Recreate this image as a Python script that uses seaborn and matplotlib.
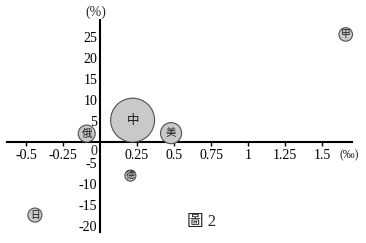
import matplotlib
matplotlib.use("Agg")
import matplotlib.pyplot as plt
import seaborn as sns
import pandas as pd

# ---- data ----
countries = ["甲", "中", "美", "俄", "德", "日"]
x_values = [1.66, 0.22, 0.48, -0.09, 0.205, -0.44]     # (‰)
y_values = [25.6, 5.2, 2.1, 2.0, -8.0, -17.4]          # (%)
bubble_sizes = [95, 1000, 230, 150, 63, 102]           # marker area (pt^2)
label_sizes = [7, 9, 7.5, 7.5, 6.5, 7]

x_ticks = [-0.5, -0.25, 0.25, 0.5, 0.75, 1, 1.25, 1.5]
x_ticklabels = ["-0.5", "-0.25", "0.25", "0.5", "0.75", "1", "1.25", "1.5"]
y_ticks = [-20, -15, -10, -5, 5, 10, 15, 20, 25]
y_ticklabels = ["-20", "-15", "-10", "-5", "5", "10", "15", "20", "25"]

df = pd.DataFrame({"country": countries, "x": x_values, "y": y_values, "size": bubble_sizes})

sns.set_theme(style="white")
plt.rcParams["font.family"] = ["Liberation Serif", "Noto Sans CJK TC"]

fig = plt.figure(figsize=(3.66, 2.43), dpi=100)
ax = fig.add_axes([0, 0, 1, 1])
ax.set_facecolor("white")

sns.scatterplot(data=df, x="x", y="y", size="size",
                sizes=(min(bubble_sizes), max(bubble_sizes)),
                size_norm=(min(bubble_sizes), max(bubble_sizes)),
                color="#c9c9c9", edgecolor="#505050", linewidth=0.8,
                legend=False, ax=ax, zorder=3)

for c, x, y, fs in zip(countries, x_values, y_values, label_sizes):
    ax.text(x, y, c, ha="center", va="center", fontsize=fs,
            family=["Noto Sans CJK TC"], color="#1a1a1a", zorder=4)

ax.set_xlim(-0.676, 1.797)
ax.set_ylim(-24.05, 33.8)

for s in ["top", "right"]:
    ax.spines[s].set_visible(False)
ax.spines["left"].set_position(("data", 0))
ax.spines["bottom"].set_position(("data", 0))
ax.spines["left"].set_bounds(-21.4, 29)
ax.spines["bottom"].set_bounds(-0.63, 1.70)
for s in ["left", "bottom"]:
    ax.spines[s].set_color("black")
    ax.spines[s].set_linewidth(1.5)

ax.set_xticks(x_ticks)
ax.set_xticklabels(x_ticklabels)
ax.set_yticks(y_ticks)
ax.set_yticklabels(y_ticklabels)
ax.tick_params(axis="x", direction="out", length=3, width=1, pad=2,
               labelsize=10, colors="black", bottom=True)
ax.tick_params(axis="y", length=0, pad=2, labelsize=10, colors="black", left=True)
ax.set_xlabel("")
ax.set_ylabel("")
ax.grid(False)

ax.annotate("0", xy=(0, 0), xytext=(-2, -2), textcoords="offset points",
            ha="right", va="top", fontsize=10)
ax.annotate("(%)", xy=(0, 29), xytext=(-3, 1), textcoords="offset points",
            ha="center", va="bottom", fontsize=10)
ax.annotate("(‰)", xy=(1.70, 0), xytext=(-2, -5), textcoords="offset points",
            ha="center", va="top", fontsize=8.5)

fig.text(202 / 366, 1 - 222 / 243, "圖 2", ha="center", va="center", fontsize=12,
         family=["Liberation Serif", "Noto Sans CJK TC"])

fig.savefig("out.png", dpi=100)
